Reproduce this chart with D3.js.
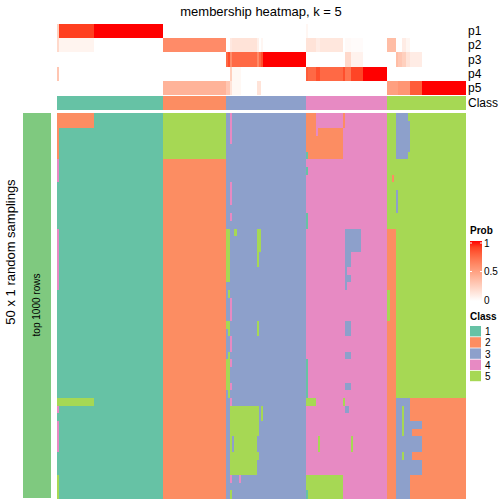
<!DOCTYPE html>
<html>
<head>
<meta charset="utf-8">
<script src="https://cdn.jsdelivr.net/npm/d3@7"></script>
<style>
  html, body { margin: 0; padding: 0; background: #fff; }
  svg { display: block; }
  text { font-family: "Liberation Sans", Arial, Helvetica, sans-serif; }
</style>
</head>
<body>
<svg id="chart" width="504" height="504"></svg>
<script>
// ---------------- DATA ----------------
const classLabels = ["1", "2", "3", "4", "5"];
const classColors = ["#66C2A5", "#FC8D62", "#8DA0CB", "#E78AC3", "#A6D854"];
// number of sample columns assigned to each class (in column order)
const classColumnCounts = [52, 31, 39, 40, 38];
const probRows = ["p1", "p2", "p3", "p4", "p5"];
const nSamplings = 50;

// membership probability segments: start column of each segment and the values
const segStart = [0, 1, 18, 52, 83, 84, 85, 86, 90, 98, 99, 100, 101, 122, 123, 127, 129, 140, 141, 144, 150, 162, 166, 167, 169, 171, 173, 179];
const p1 = [0.25, 0.9, 1, 0, 0, 0, 0, 0, 0, 0, 0, 0, 0, 0.05, 0, 0, 0, 0, 0, 0, 0, 0, 0, 0, 0, 0, 0, 0];
const p2 = [0.2, 0.06, 0, 0.6, 0, 0, 0.12, 0.15, 0.15, 0.08, 0, 0.05, 0, 0.15, 0.15, 0.1, 0.13, 0, 0.03, 0.02, 0, 0.35, 0, 0, 0.1, 0.05, 0, 0];
const p3 = [0, 0, 0, 0, 0.75, 0.85, 0.6, 0.75, 0.75, 0.6, 0.75, 0.85, 1, 0, 0, 0, 0, 0, 0.2, 0.07, 0, 0, 0.35, 0.3, 0.25, 0.15, 0.1, 0];
const p4 = [0.3, 0, 0, 0, 0, 0, 0.25, 0.04, 0, 0, 0, 0, 0, 0.8, 0.75, 0.85, 0.75, 0.85, 0.7, 0.88, 1, 0, 0, 0, 0, 0, 0, 0];
const p5 = [0, 0, 0, 0.4, 0.3, 0.3, 0.15, 0.04, 0, 0.15, 0.15, 0, 0, 0, 0, 0, 0, 0, 0, 0, 0, 0.5, 0.5, 0.55, 0.55, 0.55, 0.8, 1];

// deviations of the sampled class from the consensus class:
// [firstRow, lastRow, firstCol, lastCol, class]
const deviations = [
  [0, 1, 0, 17, 2], [0, 5, 0, 0, 2], [6, 8, 0, 0, 4], [15, 22, 0, 0, 4],
  [37, 37, 0, 17, 5], [38, 38, 0, 0, 4], [40, 43, 0, 0, 4], [47, 49, 0, 0, 5],
  [0, 5, 52, 82, 5],
  [0, 3, 85, 85, 4], [9, 11, 85, 85, 4], [13, 13, 85, 85, 4], [15, 21, 83, 84, 5],
  [15, 15, 87, 87, 5], [15, 17, 98, 99, 5], [18, 19, 98, 98, 5], [23, 23, 84, 84, 5],
  [24, 26, 85, 85, 4], [27, 27, 83, 84, 5], [27, 28, 98, 98, 5], [28, 28, 84, 84, 5],
  [29, 30, 85, 85, 4], [31, 31, 84, 84, 5], [32, 32, 85, 85, 4], [32, 35, 83, 84, 5],
  [35, 35, 85, 85, 4], [36, 36, 84, 84, 5], [37, 37, 85, 85, 4], [38, 41, 85, 98, 5],
  [38, 39, 100, 100, 5], [42, 43, 85, 97, 5], [42, 43, 86, 86, 3], [44, 44, 85, 98, 5],
  [45, 46, 85, 97, 5], [47, 47, 85, 85, 4], [47, 47, 89, 89, 4], [49, 49, 85, 85, 5],
  [0, 5, 122, 126, 2], [2, 2, 128, 139, 2], [3, 5, 127, 139, 2], [0, 1, 140, 140, 2],
  [5, 5, 122, 122, 1], [7, 7, 122, 122, 1], [13, 14, 122, 122, 1],
  [15, 17, 141, 148, 3], [18, 19, 141, 143, 3], [20, 20, 141, 141, 3], [21, 21, 141, 143, 3],
  [22, 22, 141, 141, 3], [27, 28, 141, 143, 3], [31, 31, 141, 143, 3], [32, 36, 122, 122, 1],
  [35, 35, 141, 143, 3], [37, 37, 122, 126, 5], [37, 37, 140, 140, 5], [38, 38, 141, 142, 3],
  [42, 43, 128, 128, 5], [42, 43, 144, 144, 5], [47, 49, 122, 139, 5], [49, 49, 122, 122, 1],
  [0, 5, 166, 171, 3], [1, 4, 172, 172, 3], [8, 8, 164, 164, 2], [10, 12, 166, 166, 3],
  [15, 49, 162, 165, 2], [23, 26, 162, 162, 5], [37, 49, 166, 172, 3], [37, 49, 173, 199, 2],
  [38, 41, 169, 169, 5], [40, 40, 171, 178, 3], [41, 41, 171, 173, 3], [42, 43, 166, 178, 3],
  [44, 44, 171, 173, 3], [44, 44, 169, 169, 5], [45, 46, 166, 178, 3]
];

// ---------------- BUILD ----------------
const consensus = [];
classColumnCounts.forEach((n, i) => { for (let k = 0; k < n; k++) consensus.push(i + 1); });
const nCols = consensus.length;
const probSeries = [p1, p2, p3, p4, p5];
function segOf(c) { let s = 0; for (let i = 0; i < segStart.length; i++) if (segStart[i] <= c) s = i; return s; }

const matrix = d3.range(nSamplings).map(() => consensus.slice());
deviations.forEach(([r0, r1, c0, c1, k]) => {
  for (let r = r0; r <= r1; r++) for (let c = c0; c <= c1; c++) matrix[r][c] = k;
});

// ---------------- DRAW ----------------
const svg = d3.select("#chart");
const x = d3.scaleBand().domain(d3.range(nCols)).range([57, 465]).paddingInner(0);
const yAnno = d3.scaleBand().domain(probRows).range([24, 95]);
const yClassBar = d3.scaleBand().domain(["Class"]).range([96, 110]);
const yRow = d3.scaleBand().domain(d3.range(nSamplings)).range([113, 498]);
const classColor = d3.scaleOrdinal().domain([1, 2, 3, 4, 5]).range(classColors);
const probColor = d3.scaleLinear().domain([0, 1]).range(["#FFFFFF", "#FF0000"]).interpolate(d3.interpolateLab);

svg.append("text").attr("x", 261).attr("y", 16).attr("text-anchor", "middle")
  .attr("font-size", 13).text("membership heatmap, k = 5");

// probability annotation
const annoG = svg.append("g").attr("shape-rendering", "crispEdges");
probRows.forEach((name, pi) => {
  annoG.selectAll(null).data(d3.range(nCols)).enter().append("rect")
    .attr("x", c => x(c)).attr("width", x.bandwidth() + 0.6)
    .attr("y", yAnno(name)).attr("height", yAnno.bandwidth())
    .attr("fill", c => probColor(probSeries[pi][segOf(c)]));
});
annoG.selectAll(null).data(d3.range(nCols)).enter().append("rect")
  .attr("x", c => x(c)).attr("width", x.bandwidth() + 0.6)
  .attr("y", yClassBar("Class")).attr("height", yClassBar.bandwidth())
  .attr("fill", c => classColor(consensus[c]));

const labG = svg.append("g").attr("font-size", 12);
probRows.forEach(name => {
  labG.append("text").attr("x", 468).attr("y", yAnno(name) + yAnno.bandwidth() / 2)
    .attr("dominant-baseline", "central").text(name);
});
labG.append("text").attr("x", 468).attr("y", yClassBar("Class") + yClassBar.bandwidth() / 2)
  .attr("dominant-baseline", "central").text("Class");

// main matrix
const mainG = svg.append("g").attr("shape-rendering", "crispEdges");
matrix.forEach((row, r) => {
  mainG.selectAll(null).data(row).enter().append("rect")
    .attr("x", (k, c) => x(c)).attr("width", x.bandwidth() + 0.6)
    .attr("y", yRow(r)).attr("height", yRow.bandwidth() + 0.6)
    .attr("fill", k => classColor(k));
});

// left split bar
svg.append("rect").attr("x", 23).attr("y", 113).attr("width", 28).attr("height", 385)
  .attr("fill", "#7FC97F");
svg.append("text").attr("transform", "translate(40,305) rotate(-90)")
  .attr("text-anchor", "middle").attr("font-size", 10).text("top 1000 rows");
svg.append("text").attr("transform", "translate(15,252) rotate(-90)")
  .attr("text-anchor", "middle").attr("font-size", 13).text("50 x 1 random samplings");

// legend: Prob
const legX = 470;
svg.append("text").attr("x", legX).attr("y", 234).attr("font-size", 10)
  .attr("font-weight", "bold").text("Prob");
const defs = svg.append("defs");
const grad = defs.append("linearGradient").attr("id", "pg").attr("x1", 0).attr("x2", 0).attr("y1", 1).attr("y2", 0);
d3.range(0, 1.0001, 0.1).forEach(t => grad.append("stop").attr("offset", t).attr("stop-color", probColor(t)));
const pScale = d3.scaleLinear().domain([0, 1]).range([300, 243]);
svg.append("rect").attr("x", legX).attr("y", 241).attr("width", 12).attr("height", 60).attr("fill", "url(#pg)");
[0.5, 1].forEach(v => {
  svg.append("line").attr("x1", legX).attr("x2", legX + 2).attr("y1", pScale(v)).attr("y2", pScale(v)).attr("stroke", "#fff");
  svg.append("line").attr("x1", legX + 10).attr("x2", legX + 12).attr("y1", pScale(v)).attr("y2", pScale(v)).attr("stroke", "#fff");
});
const pAxis = svg.append("g").attr("transform", `translate(${legX + 12},0)`)
  .call(d3.axisRight(pScale).tickValues([0, 0.5, 1]).tickSize(0).tickPadding(2).tickFormat(d3.format("")));
pAxis.select(".domain").remove();
pAxis.selectAll("text").attr("font-size", 10).attr("font-family", "Liberation Sans, Arial, sans-serif").attr("fill", "#000");

// legend: Class
svg.append("text").attr("x", legX).attr("y", 320).attr("font-size", 10)
  .attr("font-weight", "bold").text("Class");
const yLeg = d3.scaleBand().domain(classLabels).range([326, 382]);
classLabels.forEach((lab, i) => {
  svg.append("rect").attr("x", legX).attr("y", yLeg(lab)).attr("width", 11).attr("height", yLeg.bandwidth() - 0.8)
    .attr("fill", classColors[i]);
  svg.append("text").attr("x", legX + 15).attr("y", yLeg(lab) + yLeg.bandwidth() / 2)
    .attr("dominant-baseline", "central").attr("font-size", 10).text(lab);
});
</script>
</body>
</html>
